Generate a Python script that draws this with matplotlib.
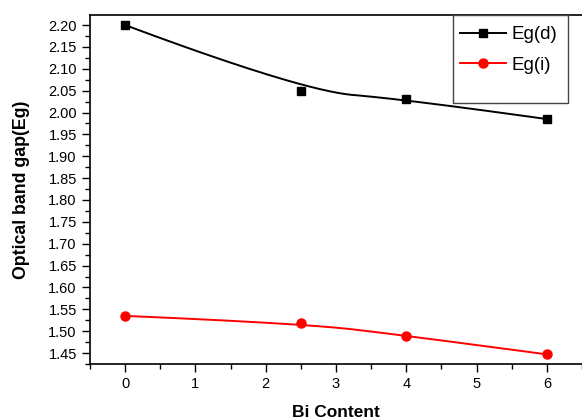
import numpy as np
import matplotlib.pyplot as plt
from matplotlib.lines import Line2D
from matplotlib.patches import Rectangle
from matplotlib.ticker import MultipleLocator, FormatStrFormatter

plt.rcParams['font.family'] = ['Liberation Sans', 'DejaVu Sans']

# Data
bi_content = [0, 2.5, 4, 6]
eg_direct = [2.20, 2.05, 2.03, 1.985]
eg_indirect = [1.535, 1.518, 1.490, 1.447]


def bspline(xs, ys, n=150):
    # clamped quadratic B-spline with the data points as control points
    # (Origin "B-Spline" connection); for 4 points it is two quadratic pieces
    p = np.column_stack([xs, ys]).astype(float)
    m = (p[1] + p[2]) / 2
    t = np.linspace(0, 1, n)[:, None]
    seg1 = (1 - t) ** 2 * p[0] + 2 * t * (1 - t) * p[1] + t ** 2 * m
    seg2 = (1 - t) ** 2 * m + 2 * t * (1 - t) * p[2] + t ** 2 * p[3]
    c = np.vstack([seg1, seg2[1:]])
    return c[:, 0], c[:, 1]


fig = plt.figure(figsize=(5.82, 4.19), dpi=100)
ax = fig.add_axes([90 / 582, 55 / 419, 492 / 582, 349 / 419])

xd, yd = bspline(bi_content, eg_direct)
xi, yi = bspline(bi_content, eg_indirect)
ax.plot(xd, yd, color='black', lw=1.4)
ax.plot(xi, yi, color='red', lw=1.4)
ax.plot(bi_content, eg_direct, 's', color='black', ms=6)
ax.plot(bi_content, eg_indirect, 'o', color='red', ms=6.5)

# legend box is taller than its two entries, so draw the frame separately
box_x0, box_x1, box_y0 = 0.738, 0.9715, 0.748
ax.add_patch(Rectangle((box_x0, box_y0), box_x1 - box_x0, 1 - box_y0,
                       transform=ax.transAxes, facecolor='white',
                       edgecolor='#444444', lw=1.0, zorder=4))
handles = [
    Line2D([], [], color='black', marker='s', lw=1.4, ms=6),
    Line2D([], [], color='red', marker='o', lw=1.4, ms=6.5),
]
leg = ax.legend(handles, ['Eg(d)', 'Eg(i)'], loc='upper left',
                bbox_to_anchor=(box_x0 - 0.009, 1.0), fontsize=13.5, frameon=False,
                borderaxespad=0, handlelength=2.45, borderpad=0.6,
                labelspacing=0.72, handletextpad=0.3)
leg.set_zorder(5)

ax.set_xlim(-0.5, 6.5)
ax.set_ylim(1.425, 2.223)
ax.xaxis.set_major_locator(MultipleLocator(1))
ax.xaxis.set_minor_locator(MultipleLocator(0.5))
ax.yaxis.set_major_locator(MultipleLocator(0.05))
ax.yaxis.set_minor_locator(MultipleLocator(0.025))
ax.yaxis.set_major_formatter(FormatStrFormatter('%.2f'))
ax.tick_params(which='major', direction='out', length=6, width=1, labelsize=10.5)
ax.tick_params(which='minor', direction='out', length=3.5, width=1)
ax.tick_params(top=False, right=False)
ax.spines['right'].set_visible(False)
for s in ['left', 'bottom', 'top']:
    ax.spines[s].set_linewidth(1.2)

ax.set_xlabel('Bi Content', fontsize=12.5, fontweight='bold', labelpad=10)
ax.set_ylabel('Optical band gap(Eg)', fontsize=12.8, fontweight='bold', labelpad=13)

fig.savefig('out.png', dpi=100)
